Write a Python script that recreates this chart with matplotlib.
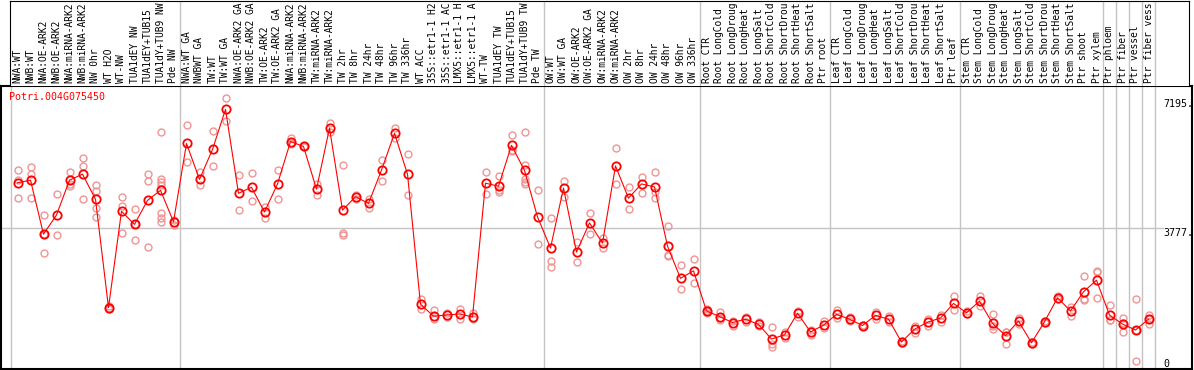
import matplotlib.pyplot as plt

gene = 'Potri.004G075450'

# sample names as far as they show in the header (longer ones are cut short there)
labels = [
    'NWA:WT', 'NWB:WT', 'NWA:OE-ARK2', 'NWB:OE-ARK2', 'NWA:miRNA-ARK2', 'NWB:miRNA-ARK2',
    'NW 0hr', 'WT H2O', 'WT-NW', 'TUA1dEY NW', 'TUA1dEY+TUB15', 'TUA1dY+TUB9 NW', 'Pde NW',
    'NWA:WT GA', 'NWBWT GA', 'TW:WT', 'TW:WT GA', 'NWA:OE-ARK2 GA', 'NWB:OE-ARK2 GA',
    'TW:OE-ARK2', 'TW:OE-ARK2 GA', 'NWA:miRNA-ARK2', 'NWB:miRNA-ARK2', 'TW:miRNA-ARK2',
    'TW:miRNA-ARK2', 'TW 2hr', 'TW 8hr', 'TW 24hr', 'TW 48hr', 'TW 96hr', 'TW 336hr',
    'WT ACC', '35S::etr1-1 H2', '35S::etr1-1 AC', 'LMX5::etr1-1 H', 'LMX5::etr1-1 A',
    'WT-TW', 'TUA1dEY TW', 'TUA1dEY+TUB15', 'TUA1dY+TUB9 TW', 'Pde TW',
    'OW:WT', 'OW:WT GA', 'OW:OE-ARK2', 'OW:OE-ARK2 GA', 'OW:miRNA-ARK2', 'OW:miRNA-ARK2',
    'OW 2hr', 'OW 8hr', 'OW 24hr', 'OW 48hr', 'OW 96hr', 'OW 336hr',
    'Root CTR', 'Root LongCold', 'Root LongDroug', 'Root LongHeat', 'Root LongSalt',
    'Root ShortCold', 'Root ShortDrou', 'Root ShortHeat', 'Root ShortSalt', 'Ptr root',
    'Leaf CTR', 'Leaf LongCold', 'Leaf LongDroug', 'Leaf LongHeat', 'Leaf LongSalt',
    'Leaf ShortCold', 'Leaf ShortDrou', 'Leaf ShortHeat', 'Leaf ShortSalt', 'Ptr leaf',
    'Stem CTR', 'Stem LongCold', 'Stem LongDroug', 'Stem LongHeat', 'Stem LongSalt',
    'Stem ShortCold', 'Stem ShortDrou', 'Stem ShortHeat', 'Stem ShortSalt', 'Ptr shoot',
    'Ptr xylem', 'Ptr phloem', 'Ptr fiber', 'Ptr vessel', 'Ptr fiber vess',
]

means = [
    4970, 5040, 3600, 4110, 5040, 5200, 4530, 1640, 4210, 3860, 4500, 4770, 3930,
    6020, 5060, 5860, 6930, 4690, 4850, 4190, 4940, 6070, 5940, 4800, 6430, 4240, 4600,
    4420, 5310, 6290, 5200, 1730, 1410, 1440, 1470, 1390, 4960, 4880, 5970, 5300, 4060,
    3230, 4830, 3120, 3900, 3360, 5420, 4560, 4940, 4860, 3280, 2420, 2620,
    1550, 1400, 1240, 1330, 1190, 800, 910, 1490, 990, 1170,
    1460, 1330, 1160, 1430, 1330, 720, 1060, 1250, 1360, 1750,
    1500, 1810, 1220, 890, 1280, 700, 1260, 1900, 1550, 2060, 2370,
    1440, 1200, 1040, 1330,
]

reps = [
    [5300, 5050, 4560], [5380, 5200, 4560], [4110, 3600, 3090], [4660, 3570],
    [5250, 4950, 4880], [5630, 5410, 4530], [4910, 4750, 4290, 4050], [1690, 1620, 1610],
    [4580, 4360, 3640], [4260, 3880, 3440], [5200, 5030, 3260],
    [6320, 5070, 4990, 4910, 4160, 4030, 3920], [3980, 3840],
    [6500, 5520], [5250, 4910], [6350, 5420], [7230, 6630], [5180, 4240], [5220, 4480],
    [4320, 4040], [5300, 4530], [6170, 6030, 6010], [5960, 5920], [4950, 4640],
    [6560, 6320], [5440, 3640, 3580], [4650, 4550], [4550, 4300], [5570, 5030],
    [6420, 6160], [5730, 4640], [1880, 1590], [1570, 1330], [1500, 1380], [1590, 1340],
    [1490, 1330], [5250, 4660], [5150, 4780, 4720], [6250, 5840, 5820],
    [6330, 5450, 5070, 4990, 4940], [4770, 3340],
    [4020, 2890, 2730], [5020, 4600], [3380, 2860], [4160, 3600], [3500, 3220],
    [5900, 4930], [4850, 4260], [5120, 4690], [5250, 4730, 4560], [3820, 3040, 3010],
    [2780, 2140], [2940, 2300],
    [1600, 1550, 1490], [1530, 1350, 1320], [1280, 1160], [1400, 1260], [1260, 1160],
    [1120, 680, 600], [1000, 820], [1560, 1400], [1040, 910], [1280, 1100],
    [1570, 1350], [1380, 1280], [1180, 1140], [1530, 1330], [1410, 1250], [740, 700],
    [1160, 960], [1330, 1160], [1440, 1250], [1940, 1570],
    [1540, 1460], [1960, 1690], [1460, 1140, 1060], [1000, 1000, 670], [1350, 1210],
    [720, 680], [1280, 1240], [1940, 1860], [1660, 1420], [2470, 1860, 1840],
    [2620, 2600, 1890],
    [1710, 1310, 1300], [1370, 1230, 1000], [1870, 1040, 210], [1440, 1340, 1210],
]

# first column of each sample group
group_starts = [0, 13, 41, 53, 63, 73, 84, 85, 86, 87, 88]
scale_ticks = [7195, 3777, 0]
scale_labels = ['7195.', '3777.', '0']

W, H = 1194, 370
fig = plt.figure(figsize=(W / 100, H / 100), dpi=100)


def box(x0, y0, x1, y1):
    # pixel box (top-left origin) -> figure fraction
    return [x0 / W, 1 - y1 / H, (x1 - x0) / W, (y1 - y0) / H]


def col(p):
    # pixel x -> column index units (13 px per column starting at x=11)
    return (p - 11) / 13 - 0.5


mono = 'DejaVu Sans Mono'
grid = '#c4c4c4'

ax = fig.add_axes(box(1, 86, 1192, 369))
ax.set_xlim(col(1), col(1192))
ax.set_ylim(0, 2 * 3777)
ax.set_xticks([])
ax.set_yticks([])
for s in ax.spines.values():
    s.set_linewidth(1.5)

for g in group_starts:
    ax.axvline(g - 0.5, color=grid, lw=1, zorder=0)
ax.axhline(3777, xmax=(1163 - 1) / 1191, color=grid, lw=1, zorder=0)

for i, vals in enumerate(reps):
    ax.plot([i] * len(vals), vals, 'o', mfc='none', mec='#f09494', ms=5, mew=1, zorder=2)
ax.plot(range(len(means)), means, '-', color='red', lw=0.8, marker='o',
        mfc='none', mec='red', ms=6, mew=1.3, zorder=3)

ax.text(0.007, 0.96, gene, transform=ax.transAxes, color='red', family=mono,
        fontsize=7.2, va='center', ha='left')
for v, s in zip(scale_ticks, scale_labels):
    ax.text(0.9757, v, s, transform=ax.get_yaxis_transform(), family=mono,
            fontsize=7.2, ha='left', va='bottom' if v == 0 else 'top')

# sample name header
lab = fig.add_axes(box(10, 0.5, 1189, 86))
lab.set_xlim(col(10), col(1189))
lab.set_ylim(0, 1)
lab.set_xticks([])
lab.set_yticks([])
lab.spines['bottom'].set_visible(False)
for s in ['left', 'top', 'right']:
    lab.spines[s].set_linewidth(0.8)
for g in group_starts[1:]:
    lab.axvline(g - 0.5, color=grid, lw=1, zorder=0)
for i, name in enumerate(labels):
    lab.text(i, 0.04, name, rotation=90, ha='center', va='bottom', family=mono,
             fontsize=6.9)

fig.savefig('out.png', dpi=100)
